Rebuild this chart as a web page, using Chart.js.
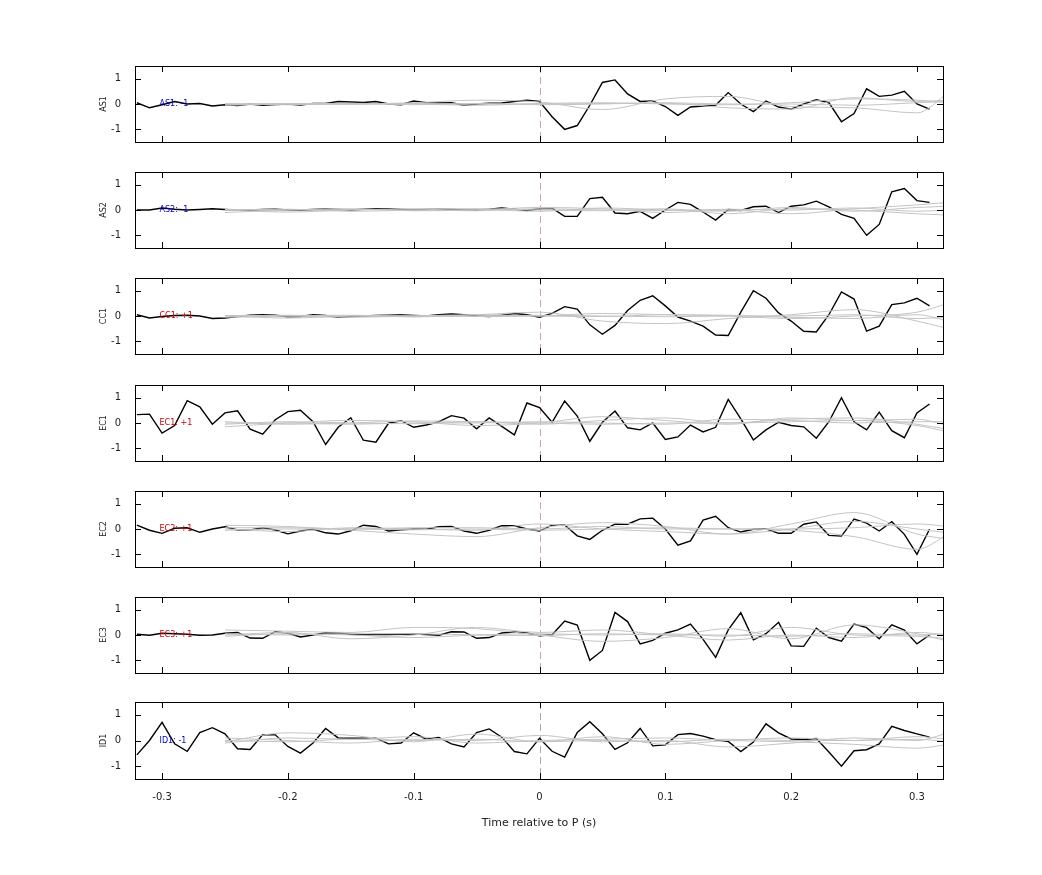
<!DOCTYPE html>
<html><head><meta charset="utf-8">
<script src="https://cdn.jsdelivr.net/npm/chart.js@4"></script>
<style>body{margin:0;background:#fff;width:1042px;height:875px;position:relative;overflow:hidden}canvas{position:absolute}</style>
</head><body>
<script>
const channels = ["AS1","AS2","CC1","EC1","EC2","EC3","ID1"];
const polarity = ["-1","-1","+1","+1","+1","+1","-1"];
const labelColors = ["#0000cc","#0000cc","#cc0000","#cc0000","#cc0000","#cc0000","#0000cc"];
const xTicks = [-0.3,-0.2,-0.1,0,0.1,0.2,0.3];
const yTicks = [-1,0,1];
// black trace times: -0.32 .. 0.31 step 0.01
const times = [-0.32,-0.31,-0.30,-0.29,-0.28,-0.27,-0.26,-0.25,-0.24,-0.23,-0.22,-0.21,-0.20,-0.19,-0.18,-0.17,-0.16,-0.15,-0.14,-0.13,-0.12,-0.11,-0.10,-0.09,-0.08,-0.07,-0.06,-0.05,-0.04,-0.03,-0.02,-0.01,0.00,
 0.01,0.02,0.03,0.04,0.05,0.06,0.07,0.08,0.09,0.10,0.11,0.12,0.13,0.14,0.15,0.16,0.17,0.18,0.19,0.20,0.21,0.22,0.23,0.24,0.25,0.26,0.27,0.28,0.29,0.30,0.31];
const AS1 = [0.05,-0.15,-0.03,0.1,0.0,0.02,-0.08,-0.03,-0.06,0.0,-0.05,-0.02,0.0,-0.04,0.02,0.02,0.1,0.08,0.06,0.1,0.0,-0.03,0.12,0.05,0.04,0.05,-0.05,0.0,0.03,0.04,0.1,0.15,0.1,
 -0.5,-1.0,-0.85,-0.05,0.85,0.95,0.4,0.1,0.12,-0.1,-0.45,-0.12,-0.08,-0.05,0.45,0.0,-0.3,0.12,-0.12,-0.2,0.0,0.17,0.05,-0.7,-0.38,0.6,0.3,0.35,0.5,0.0,-0.2];
const AS2 = [0.0,0.0,0.08,0.03,0.0,0.02,0.05,0.02,0.0,0.0,0.02,0.03,0.0,0.0,0.02,0.04,0.02,0.0,0.03,0.05,0.05,0.02,0.0,0.02,0.03,0.02,0.0,0.0,0.03,0.08,0.03,-0.02,0.05,
 0.07,-0.25,-0.25,0.45,0.5,-0.12,-0.15,-0.05,-0.33,0.0,0.3,0.22,-0.08,-0.4,0.02,-0.02,0.13,0.15,-0.1,0.15,0.2,0.35,0.12,-0.17,-0.33,-1.0,-0.57,0.72,0.85,0.37,0.3];
const CC1 = [0.05,-0.08,-0.02,0.02,0.03,0.0,-0.1,-0.08,-0.02,0.03,0.05,0.03,-0.03,-0.02,0.05,0.02,-0.05,-0.02,0.0,0.02,0.03,0.05,0.02,0.0,0.05,0.08,0.05,0.0,-0.02,0.03,0.1,0.05,-0.05,
 0.1,0.37,0.27,-0.35,-0.72,-0.37,0.22,0.62,0.8,0.4,-0.04,-0.2,-0.4,-0.75,-0.77,0.15,1.0,0.7,0.12,-0.2,-0.6,-0.63,0.05,0.95,0.67,-0.6,-0.4,0.45,0.52,0.7,0.4];
const EC1 = [0.33,0.35,-0.4,-0.1,0.88,0.64,-0.05,0.4,0.48,-0.24,-0.44,0.13,0.45,0.5,0.05,-0.85,-0.17,0.21,-0.68,-0.76,-0.01,0.09,-0.17,-0.08,0.05,0.29,0.19,-0.23,0.2,-0.13,-0.47,0.79,0.61,
 0.03,0.87,0.27,-0.72,0.03,0.47,-0.19,-0.27,0.0,-0.65,-0.55,-0.08,-0.35,-0.17,0.93,0.16,-0.67,-0.27,0.03,-0.1,-0.15,-0.6,0.05,1.0,0.05,-0.27,0.43,-0.3,-0.58,0.4,0.75];
const EC2 = [0.15,-0.05,-0.17,0.03,0.05,-0.13,0.0,0.09,-0.04,-0.04,0.05,-0.04,-0.19,-0.08,-0.01,-0.15,-0.2,-0.07,0.15,0.1,-0.08,-0.03,0.0,-0.01,0.09,0.1,-0.08,-0.17,-0.05,0.13,0.13,0.0,-0.08,
 0.15,0.16,-0.27,-0.41,-0.05,0.19,0.19,0.4,0.43,0.0,-0.64,-0.47,0.35,0.5,0.05,-0.12,-0.01,0.01,-0.17,-0.17,0.19,0.28,-0.25,-0.28,0.39,0.23,-0.08,0.29,-0.21,-1.0,-0.01];
const EC3 = [0.03,-0.01,0.07,0.05,0.03,-0.01,0.0,0.07,0.1,-0.12,-0.13,0.13,0.07,-0.08,0.0,0.09,0.08,0.03,0.01,0.02,0.02,0.03,0.04,0.02,-0.01,0.13,0.12,-0.13,-0.1,0.08,0.12,0.08,-0.03,
 0.01,0.55,0.39,-1.0,-0.61,0.89,0.53,-0.35,-0.21,0.07,0.2,0.43,-0.17,-0.88,0.2,0.88,-0.19,0.05,0.5,-0.43,-0.45,0.27,-0.1,-0.24,0.43,0.29,-0.15,0.4,0.19,-0.35,0.0];
const ID1 = [-0.56,0.0,0.71,-0.13,-0.42,0.31,0.5,0.26,-0.32,-0.35,0.23,0.22,-0.23,-0.49,-0.1,0.47,0.1,0.09,0.09,0.09,-0.13,-0.1,0.3,0.05,0.12,-0.13,-0.25,0.31,0.45,0.13,-0.43,-0.52,0.09,
 -0.42,-0.65,0.31,0.73,0.26,-0.35,-0.09,0.47,-0.21,-0.17,0.23,0.27,0.17,0.03,-0.04,-0.43,-0.06,0.65,0.3,0.06,0.04,0.08,-0.45,-1.0,-0.4,-0.36,-0.13,0.55,0.39,0.26,0.13];
const blackSeries = [AS1,AS2,CC1,EC1,EC2,EC3,ID1];
// grey traces: times -0.25 .. 0.30 step 0.05, then 0.325
const gTimes = [-0.25,-0.2,-0.15,-0.1,-0.05,0,0.05,0.1,0.15,0.2,0.25,0.3,0.325];
const greyAS1 = [[0,0.02,0.0,0.05,0.15,0.08,-0.22,0.2,0.3,-0.1,-0.15,-0.35,0.45],[0,-0.03,0.02,0.0,-0.05,0.02,0.05,0.0,-0.03,0.05,0.2,0.15,0.05],[0,0.0,-0.02,0.02,0.0,0.0,0.02,0.03,-0.15,-0.2,0.25,0.1,0.15],[-0.05,0,0.03,-0.03,0.02,-0.03,0.0,0.05,0.0,0.0,-0.05,0.05,0.1]];
const greyAS2 = [[-0.1,0.0,0.05,-0.03,0.0,0.1,0.05,-0.1,0.0,-0.15,0.05,0.2,0.3],[0,-0.08,0.0,0.05,0.03,-0.05,0.08,0.0,-0.05,0.1,-0.05,0.1,0.15],[0,0.03,-0.05,0.0,0.05,0.0,-0.03,0.05,-0.15,0.05,0.0,-0.15,-0.2],[0.02,0.0,0.02,0.0,-0.03,0.05,0.0,-0.02,0.03,0.0,0.08,-0.05,0.0]];
const greyCC1 = [[-0.05,0.0,0.03,-0.03,0.05,0.15,-0.2,-0.3,-0.1,0.05,0.25,-0.2,-0.5],[0,-0.08,0.0,0.03,-0.02,0.0,0.1,0.05,0.0,-0.1,0.0,0.15,0.5],[0.02,0.0,-0.05,0.0,0.05,0.0,-0.02,0.05,0.03,-0.05,-0.1,0.05,-0.2],[0,0.03,0.0,-0.03,0.0,0.03,0.0,-0.03,0.0,0.0,0.05,-0.1,-0.05]];
const greyEC1 = [[-0.15,0.0,0.1,0.05,-0.1,0.0,0.25,0.1,-0.05,0.2,0.1,0.15,-0.1],[0.05,-0.05,0.0,0.08,0.05,-0.05,0.1,0.2,0.0,0.05,0.1,-0.1,-0.35],[0,0.0,-0.05,0.0,0.0,0.05,0.0,-0.05,0.15,0.1,0.0,0.05,0.05],[-0.05,0.05,0.0,-0.03,0.05,0.0,-0.05,0.0,0.0,0.15,0.2,-0.05,-0.25]];
const greyEC2 = [[0.15,0.1,-0.05,-0.2,-0.3,0.05,0.25,0.1,-0.2,0.2,0.65,-0.2,-0.4],[0.0,-0.1,0.05,0.0,-0.05,0.2,0.0,-0.1,-0.2,0.0,0.3,0.0,-0.15],[-0.05,0.0,0.0,0.05,0.05,0.0,0.1,0.0,0.0,-0.05,-0.3,-0.8,-0.2],[0.05,0.05,0.0,-0.03,0.0,-0.05,0.0,0.05,0.0,0.0,0.05,0.2,0.1]];
const greyEC3 = [[0.2,0.15,0.1,0.3,0.25,0.0,-0.25,-0.1,0.25,-0.15,0.4,0.05,-0.25],[0.0,0.1,-0.15,0.0,0.3,0.1,0.2,0.0,-0.2,0.0,-0.1,0.1,0.0],[-0.05,0.05,0.0,-0.1,0.0,0.05,0.0,0.05,-0.05,0.3,0.0,-0.05,-0.15],[0.05,0.0,0.05,0.05,0.0,-0.02,0.05,0.0,0.0,-0.05,0.05,0.0,0.05]];
const greyID1 = [[-0.05,0.3,0.2,-0.05,0.25,-0.05,0.15,-0.15,0.0,0.1,0.0,0.05,-0.05],[0.1,0.0,-0.1,0.05,0.0,0.2,-0.05,0.0,-0.25,-0.1,0.1,0.0,0.3],[-0.1,0.1,0.05,0.15,-0.1,0.0,0.05,0.1,0.0,-0.05,-0.15,-0.3,-0.15],[0.0,-0.05,0.05,0.0,0.05,-0.05,0.0,-0.05,0.05,0.0,0.0,0.15,0.05]];
const greySeries = [greyAS1,greyAS2,greyCC1,greyEC1,greyEC2,greyEC3,greyID1];

const panelTop0 = 66, panelStep = 106.2, panelH = 76, padT = 10;

const framePlugin = {
  id:'frame',
  beforeDatasetsDraw(chart, args, opts){
    const {ctx, chartArea:a, scales:{x,y}} = chart;
    ctx.save();
    ctx.strokeStyle = opts.zeroColor; ctx.lineWidth = 1; ctx.setLineDash([7,4]);
    const zx = Math.round(x.getPixelForValue(0))+0.5;
    ctx.beginPath(); ctx.moveTo(zx,a.top); ctx.lineTo(zx,a.bottom); ctx.stroke();
    ctx.restore();
  },
  afterDatasetsDraw(chart, args, opts){
    const {ctx, chartArea:a, scales:{x,y}} = chart;
    ctx.save();
    ctx.strokeStyle = '#000'; ctx.lineWidth = 1;
    ctx.strokeRect(Math.round(a.left)+0.5, Math.round(a.top)+0.5, Math.round(a.right-a.left), Math.round(a.bottom-a.top));
    ctx.beginPath();
    xTicks.forEach(v=>{const px=Math.round(x.getPixelForValue(v))+0.5;
      ctx.moveTo(px,a.top); ctx.lineTo(px,a.top+6); ctx.moveTo(px,a.bottom); ctx.lineTo(px,a.bottom-6);});
    yTicks.forEach(v=>{const py=Math.round(y.getPixelForValue(v))+0.5;
      ctx.moveTo(a.left,py); ctx.lineTo(a.left+6,py); ctx.moveTo(a.right,py); ctx.lineTo(a.right-6,py);});
    ctx.stroke();
    ctx.fillStyle = opts.labelColor; ctx.font = '8px "DejaVu Sans"'; ctx.textBaseline='middle';
    ctx.fillText(opts.label, x.getPixelForValue(-0.302), y.getPixelForValue(0));
    ctx.restore();
  }
};

channels.forEach((ch,i)=>{
  const last = i===channels.length-1;
  const cv = document.createElement('canvas');
  const top = Math.round(panelTop0 + panelStep*i - padT) - (last?3:2);
  const h = padT + panelH + (last?58:14);
  cv.style.left='95px'; cv.style.top=top+'px';
  cv.style.width='865px'; cv.style.height=h+'px';
  cv.width=865; cv.height=h;
  document.body.appendChild(cv);
  const ds = greySeries[i].map(g=>({data:gTimes.map((t,k)=>({x:t,y:g[k]})),borderColor:'#c4c4c4',borderWidth:1,pointRadius:0,tension:0.4,cubicInterpolationMode:'monotone'}));
  ds.push({data:times.map((t,k)=>({x:t,y:blackSeries[i][k]})),borderColor:'#000',borderWidth:1.4,pointRadius:0,tension:0});
  new Chart(cv,{type:'line',data:{datasets:ds},plugins:[framePlugin],
    options:{responsive:false,animation:false,devicePixelRatio:1,
      layout:{padding:{top:padT,bottom:last?0:10,left:0,right:17}},
      plugins:{legend:{display:false},tooltip:{enabled:false},
        frame:{label:ch+': '+polarity[i],labelColor:labelColors[i],zeroColor:last?'#aaaaaa':'#c8a8a8'}},
      scales:{
        x:{type:'linear',min:-0.3215,max:0.3207,display:last,grid:{display:false},border:{display:false},
          afterBuildTicks:s=>{s.ticks=xTicks.map(v=>({value:v}));},
          afterFit:s=>{if(last) s.height=55;},
          ticks:{color:'#222',font:{size:10,family:'"DejaVu Sans"'},padding:4,callback:v=>String(Math.round(v*10)/10)},
          title:{display:true,text:'Time relative to P (s)',color:'#222',font:{size:11,family:'"DejaVu Sans"'},padding:{top:12}}},
        y:{min:-1.5,max:1.5,grid:{display:false},border:{display:false},
          afterBuildTicks:s=>{s.ticks=yTicks.map(v=>({value:v}));},
          afterFit:s=>{s.width=40;},
          ticks:{color:'#222',font:{size:10,family:'"DejaVu Sans"'},padding:6},
          title:{display:true,text:ch,color:'#222',font:{size:8,family:'"DejaVu Sans"'},padding:{bottom:4}}}
      }}});
});
</script>
</body></html>
